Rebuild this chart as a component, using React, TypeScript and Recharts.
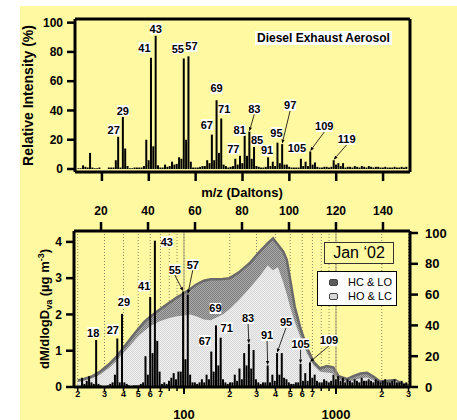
import React from 'react';
import {
  ComposedChart, BarChart, Bar, Area, XAxis, YAxis, CartesianGrid,
  ReferenceLine, LabelList, Legend, Label,
} from 'recharts';

const FONT = "'Liberation Sans', Arial, Helvetica, sans-serif";
const NARROW = "'Liberation Sans Narrow', 'Liberation Sans', Arial, sans-serif";
const BG = '#FFF9A1';

// m/z categories
const MZ = [
  10, 11, 12, 13, 14, 15, 16, 17, 18, 19,
  20, 21, 22, 23, 24, 25, 26, 27, 28, 29,
  30, 31, 32, 33, 34, 35, 36, 37, 38, 39,
  40, 41, 42, 43, 44, 45, 46, 47, 48, 49,
  50, 51, 52, 53, 54, 55, 56, 57, 58, 59,
  60, 61, 62, 63, 64, 65, 66, 67, 68, 69,
  70, 71, 72, 73, 74, 75, 76, 77, 78, 79,
  80, 81, 82, 83, 84, 85, 86, 87, 88, 89,
  90, 91, 92, 93, 94, 95, 96, 97, 98, 99,
  100, 101, 102, 103, 104, 105, 106, 107, 108, 109,
  110, 111, 112, 113, 114, 115, 116, 117, 118, 119,
  120, 121, 122, 123, 124, 125, 126, 127, 128, 129,
  130, 131, 132, 133, 134, 135, 136, 137, 138, 139,
  140, 141, 142, 143, 144, 145, 146, 147, 148, 149,
  150,
];

// Diesel exhaust aerosol mass spectrum (relative intensity, %)
const DIESEL_REL_INTENSITY = [
  0.5, 0.5, 2.5, 1.5, 1, 11, 1, 0.5, 0.5, 1,
  0, 0, 0, 1, 1, 1, 6, 22, 1, 35.5,
  14, 2, 0.5, 0.5, 1, 1, 1, 1, 2, 20,
  6, 76, 15.5, 91, 2.5, 1, 1, 3, 1.5, 2,
  5, 3, 3.5, 8, 7, 75.5, 20, 77, 5, 1,
  1, 1, 1.5, 2, 2, 6, 4, 23.5, 6, 47,
  11, 34.5, 3, 2, 1, 1.5, 2, 7, 3, 9,
  4, 23, 9, 25.5, 7, 15, 2, 1.5, 1, 1,
  1.5, 8, 2, 5, 2, 18, 4, 17, 3, 3,
  1.5, 1, 1, 1, 1, 7, 2, 5, 2, 12,
  3, 4.5, 1.5, 1, 1, 1.5, 1.5, 1, 1.5, 6,
  3, 4, 2, 4, 1, 1.5, 1.5, 1, 2, 1.5,
  1, 2, 1.5, 1, 2, 1.5, 1, 1.5, 1.5, 1,
  1, 1.5, 1, 1, 1, 1.5, 1, 1, 1.5, 1,
  1.5,
];

// Jan '02 ambient mass spectrum (right axis, 0-100)
const JAN02_INTENSITY = [
  0, 0, 6, 2, 4, 7, 3, 2, 30.5, 2,
  1, 0.5, 0.5, 1, 2, 3, 8, 31.5, 3, 47.5,
  3, 2, 1, 0.5, 1, 1, 1, 2, 3, 20,
  8, 58.5, 22, 95, 30, 10, 2, 3, 2, 4,
  6, 9, 5, 10, 10, 62, 18, 60, 8, 3,
  3, 2, 3, 5, 3, 8, 5, 23, 10, 40,
  14, 32, 5, 3, 2, 3, 3, 8, 4, 12,
  5, 22, 14, 28, 12, 24, 5, 3, 2, 3,
  3, 14, 3, 8, 4, 22, 8, 22, 6, 5,
  3, 2, 2, 3, 3, 15, 4, 9, 4, 16,
  6, 8, 4, 3, 3, 5, 4, 3, 4, 8,
  5, 7, 4, 6, 3, 5, 4, 3, 5, 4,
  3, 6, 4, 4, 5, 4, 3, 5, 4, 3,
  4, 5, 3, 3, 4, 5, 3, 3, 4, 2,
  3,
];

const DIESEL_LABELLED_MZ = [27, 29, 41, 43, 55, 57, 67, 69, 71, 77, 81, 83, 85, 91, 95, 97, 105, 109, 119];
const JAN02_LABELLED_MZ = [18, 27, 29, 41, 43, 55, 57, 67, 69, 71, 83, 91, 95, 105, 109];

const MZ_TICKS = [20, 40, 60, 80, 100, 120, 140];
const REL_TICKS = [0, 20, 40, 60, 80, 100];
const DM_TICKS = [0, 1, 2, 3, 4];
const SIZE_TICKS = [20, 30, 40, 50, 60, 70, 80, 90, 100, 200, 300, 400, 500, 600, 700, 800, 900, 1000, 2000, 3000];
const SIZE_TICK_LABELS = ['2', '3', '4', '5', '6', '7', '', '', '100', '2', '3', '4', '5', '6', '7', '', '', '1000', '2', '3'];

// size distribution (vacuum aerodynamic diameter, nm)
const DVA_NM = [
  20, 22, 25, 28, 32, 36, 40, 45, 50, 55, 60, 70, 80, 90, 100, 110, 120, 135, 150, 165,
  180, 200, 230, 270, 315, 355, 385, 415, 450, 475, 500, 535, 580, 640, 710, 785, 870, 960,
  1040, 1180, 1300, 1450, 1600, 1770, 1950, 2200, 2450, 2700, 3000,
];
const HC_LO_TOTAL = [
  0.18, 0.22, 0.3, 0.42, 0.62, 0.84, 1.08, 1.36, 1.6, 1.8, 1.94, 2.15, 2.32, 2.47, 2.58, 2.7, 2.82, 2.93, 2.97, 2.97,
  2.98, 3.0, 3.16, 3.41, 3.73, 3.96, 4.1, 3.92, 3.73, 3.5, 2.95, 2.22, 1.66, 1.11, 0.7, 0.51, 0.58, 0.54,
  0.3, 0.22, 0.3, 0.37, 0.39, 0.28, 0.15, 0.17, 0.19, 0.1, 0.05,
];
const HO_LC = [
  0.14, 0.17, 0.24, 0.34, 0.52, 0.72, 0.94, 1.18, 1.4, 1.55, 1.68, 1.82, 1.9, 1.95, 1.97, 2.0, 1.95, 1.86, 1.84, 1.92,
  2.0, 2.15, 2.4, 2.72, 3.05, 3.35, 3.22, 3.3, 2.88, 2.55, 2.2, 1.8, 1.4, 0.95, 0.6, 0.42, 0.4, 0.37,
  0.2, 0.13, 0.18, 0.24, 0.26, 0.18, 0.08, 0.1, 0.18, 0.06, 0.03,
];
const SERIES_NAMES = ['HC & LO', 'HO & LC'];

// label placement (offset of label centre from bar top, leader flag)
const TOP_LABEL_OFFSET: Record<number, number[]> = {
  27: [-4.5, -7, 0], 29: [0, -6.5, 0], 41: [-6.5, -10, 0], 43: [0, -7, 0], 55: [-6, -10, 0],
  57: [3, -10, 0], 67: [-5, -10, 0], 69: [0, -12, 0], 71: [3, -9.5, 0], 77: [-2, -10, 0],
  81: [-5, -5, 0], 83: [5, -23, 1], 85: [3, -7, 0], 91: [-1, -7, 0], 95: [-1, -10, 0],
  97: [8, -39, 1], 105: [-4, -11, 0], 109: [14, -25, 1], 119: [13, -21, 1],
};
const BOTTOM_LABEL_OFFSET: Record<number, number[]> = {
  18: [-3, -7.5, 0], 27: [-4.5, -8.5, 0], 29: [2, -12, 0], 41: [-6, -11, 0], 43: [12, 1, 0],
  55: [-8.3, -22, 1], 57: [5, -30, 1], 67: [-6.5, -11, 0], 69: [-0.5, -17, 0], 71: [6, -10, 0],
  83: [-0.8, -25.6, 1], 91: [-0.6, -30, 1], 95: [9, -31, 1], 105: [0, -20, 1], 109: [19, -22, 1],
};

const topData = MZ.map((mz, i) => ({ mz, v: DIESEL_REL_INTENSITY[i], lab: DIESEL_LABELLED_MZ.includes(mz) ? mz : null }));
const janData = MZ.map((mz, i) => ({ mz, v: JAN02_INTENSITY[i], lab: JAN02_LABELLED_MZ.includes(mz) ? mz : null }));
const sizeData = DVA_NM.map((d, i) => ({ d, total: HC_LO_TOTAL[i], light: HO_LC[i] }));

const AXIS_LINE = { stroke: '#000', strokeWidth: 3 };
const TICK_LINE = { stroke: '#000', strokeWidth: 2.5 };

function makePeakLabel(offsets: Record<number, number[]>) {
  return (props: any) => {
    const value = props.value;
    if (value === null || value === undefined || value === '') return null;
    const off = offsets[Number(value)];
    if (!off) return null;
    const vb = props.viewBox || {};
    const x = Number(vb.x ?? props.x);
    const y = Number(vb.y ?? props.y);
    const w = Number(vb.width ?? props.width ?? 0);
    const h = Number(vb.height ?? props.height ?? 0);
    const cx = x + w / 2;
    const top = Math.min(y, y + h);
    const lx = cx + off[0];
    const ly = top + off[1];
    const text = String(value);
    const bw = text.length * 5.1 + 1.5;
    const bh = 11;
    let leader = null;
    if (off[2]) {
      const sx = lx;
      const sy = ly + bh / 2;
      const tx = cx;
      const ty = top - 0.5;
      const dx = tx - sx;
      const dy = ty - sy;
      const len = Math.sqrt(dx * dx + dy * dy) || 1;
      const ux = dx / len;
      const uy = dy / len;
      const bx = tx - ux * 4;
      const by = ty - uy * 4;
      const px = -uy * 1.6;
      const py = ux * 1.6;
      leader = (
        <g>
          <line x1={sx} y1={sy} x2={bx} y2={by} stroke="#000" strokeWidth={0.8} />
          <polygon points={`${tx},${ty} ${bx + px},${by + py} ${bx - px},${by - py}`} fill="#000" />
        </g>
      );
    }
    return (
      <g>
        {leader}
        <rect x={lx - bw / 2} y={ly - bh / 2} width={bw} height={bh} fill="#fff" />
        <text x={lx} y={ly + 4} textAnchor="middle" fontSize={11} fontWeight="bold" fontFamily={NARROW} fill="#000">
          {text}
        </text>
      </g>
    );
  };
}

const HiddenTick = () => <g />;

const SizeTick = (props: any) => {
  const { x, y, payload } = props;
  const idx = SIZE_TICKS.indexOf(payload.value);
  const lab = idx >= 0 ? SIZE_TICK_LABELS[idx] : '';
  const decade = lab.length > 1;
  return (
    <g>
      <line x1={x} x2={x} y1={y + 1} y2={y + (decade ? 7 : 4)} stroke="#000" strokeWidth={decade ? 2 : 1.5} />
      {!decade && lab && (
        <text x={x} y={y + 10} textAnchor="middle" fontSize={9} fontWeight="bold" fill="#000">{lab}</text>
      )}
      {decade && (
        <text x={x} y={y + 31.5} textAnchor="middle" fontSize={13} fontWeight="bold" fill="#000">{lab}</text>
      )}
    </g>
  );
};

const TopYTitle = (p: any) => {
  const vb = p.viewBox || { y: 19, height: 153 };
  const cy = vb.y + vb.height / 2;
  return (
    <text transform={`translate(28,${cy}) rotate(-90)`} textAnchor="middle" dy="0.36em" fontSize={14} fontWeight="bold" fill="#000">
      Relative Intensity (%)
    </text>
  );
};

const BottomYTitle = (p: any) => {
  const vb = p.viewBox || { y: 51, height: 156 };
  const cy = vb.y + vb.height / 2;
  return (
    <text transform={`translate(44,${cy}) rotate(-90)`} textAnchor="middle" dy="0.36em" fontSize={13} fontWeight="bold" fill="#000">
      dM/dlogD
      <tspan fontSize={9} dy={3}>va</tspan>
      <tspan fontSize={13} dy={-3}> (µg m</tspan>
      <tspan fontSize={9} dy={-5}>-3</tspan>
      <tspan fontSize={13} dy={5}>)</tspan>
    </text>
  );
};

const LEGEND_SWATCH: Record<string, string> = { 'HC & LO': '#5c5c5c', 'HO & LC': '#d9d9d9' };

const renderLegend = (props: any) => {
  const items = props.payload || [];
  return (
    <div style={{
      width: 80, height: 35, background: '#fff', border: '1.5px solid #000', boxSizing: 'border-box',
      padding: '3px 0 0 11px', fontFamily: FONT,
    }}>
      {items.map((it: any, i: number) => (
        <div key={i} style={{ display: 'flex', alignItems: 'center', height: 14, fontSize: 11, color: '#000', whiteSpace: 'nowrap' }}>
          <span style={{ display: 'inline-block', width: 9, height: 7, background: LEGEND_SWATCH[it.value] || '#999', borderRadius: 2, marginRight: 10, border: '0.5px solid #444', boxSizing: 'border-box' }} />
          <span>{it.value}</span>
        </div>
      ))}
    </div>
  );
};

export default function App() {
  return (
    <div style={{ position: 'absolute', left: 0, top: 0, width: 457, height: 420, background: '#fff', overflow: 'hidden', fontFamily: FONT }}>
      <div style={{ position: 'absolute', left: 20, top: 6, right: 0, bottom: 0, background: BG }} />

      {/* Top panel: diesel exhaust mass spectrum */}
      <div style={{ position: 'absolute', left: 0, top: 0 }}>
        <BarChart width={457} height={200} data={topData} margin={{ top: 19, right: 47, bottom: 0, left: 0 }}>
          <XAxis
            dataKey="mz" type="number" domain={[8.5, 151.5]} allowDataOverflow ticks={MZ_TICKS} interval={0}
            height={28} tickSize={9} axisLine={AXIS_LINE} tickLine={TICK_LINE} tick={HiddenTick}
          />
          <YAxis
            type="number" domain={[-2.05, 102.5]} allowDataOverflow ticks={REL_TICKS} interval={0}
            width={75} tickSize={8} tickMargin={4} axisLine={AXIS_LINE} tickLine={TICK_LINE}
            tick={{ fontSize: 12, fontWeight: 'bold', fill: '#000' }}
            label={<Label content={TopYTitle} />}
          />
          <ReferenceLine y={102.5} stroke="#000" strokeWidth={3} ifOverflow="visible" />
          <ReferenceLine x={151.5} stroke="#000" strokeWidth={3} ifOverflow="visible" />
          <Bar dataKey="v" fill="#000" barSize={2} isAnimationActive={false}>
            <LabelList dataKey="lab" content={makePeakLabel(TOP_LABEL_OFFSET)} />
          </Bar>
        </BarChart>
      </div>

      <div style={{
        position: 'absolute', left: 255, top: 31, height: 14, lineHeight: '14px', padding: '0 2px',
        background: '#fff', fontSize: 12, fontWeight: 'bold', color: '#000', whiteSpace: 'nowrap',
      }}>
        Diesel Exhaust Aerosol
      </div>

      {/* Bottom panel: size distribution */}
      <div style={{ position: 'absolute', left: 0, top: 180 }}>
        <ComposedChart width={457} height={240} data={sizeData} margin={{ top: 51, right: 47, bottom: 0, left: 0 }}>
          <defs>
            <pattern id="chkDark" width="2" height="2" patternUnits="userSpaceOnUse">
              <rect width="2" height="2" fill="#ababab" />
              <rect width="1" height="1" fill="#7c7c7c" />
              <rect x="1" y="1" width="1" height="1" fill="#7c7c7c" />
            </pattern>
            <pattern id="chkLight" width="2" height="2" patternUnits="userSpaceOnUse">
              <rect width="2" height="2" fill="#efefef" />
              <rect width="1" height="1" fill="#d8d8d8" />
              <rect x="1" y="1" width="1" height="1" fill="#d8d8d8" />
            </pattern>
          </defs>
          <CartesianGrid horizontal={false} stroke="#8a8766" strokeDasharray="1 2" />
          <XAxis
            dataKey="d" type="number" scale="log" domain={[18.9, 3068]} allowDataOverflow ticks={SIZE_TICKS}
            interval={0} height={33} tickSize={0} tickMargin={0} tickLine={false} axisLine={AXIS_LINE} tick={SizeTick}
          />
          <YAxis
            type="number" domain={[0, 4.3]} allowDataOverflow ticks={DM_TICKS} interval={0}
            width={74} tickSize={8} tickMargin={4} axisLine={AXIS_LINE} tickLine={TICK_LINE}
            tick={{ fontSize: 12, fontWeight: 'bold', fill: '#000' }}
            label={<Label content={BottomYTitle} />}
          />
          <ReferenceLine x={100} stroke="#a39d7c" strokeWidth={1} />
          <ReferenceLine x={1000} stroke="#a39d7c" strokeWidth={1} />
          <Area type="linear" dataKey="total" name={SERIES_NAMES[0]} stroke="#6a6a6a" strokeWidth={2.5}
            fill="url(#chkDark)" fillOpacity={1} isAnimationActive={false} />
          <Area type="linear" dataKey="light" name={SERIES_NAMES[1]} stroke="none"
            fill="url(#chkLight)" fillOpacity={1} isAnimationActive={false} />
          <Legend layout="horizontal" verticalAlign="middle" align="center"
            wrapperStyle={{ left: 317, top: 91, width: 80, height: 35 }} content={renderLegend} />
        </ComposedChart>
      </div>

      {/* Bottom panel: Jan '02 mass spectrum overlay */}
      <div style={{ position: 'absolute', left: 0, top: 180 }}>
        <BarChart width={457} height={240} data={janData} margin={{ top: 0, right: 0, bottom: 33, left: 74 }}>
          <XAxis
            dataKey="mz" type="number" orientation="top" domain={[8.5, 151.5]} allowDataOverflow ticks={MZ_TICKS}
            interval={0} height={51} tickSize={9} tickMargin={7} axisLine={AXIS_LINE} tickLine={TICK_LINE}
            tick={{ fontSize: 12, fontWeight: 'bold', fill: '#000' }}
            label={{ value: 'm/z (Daltons)', position: 'insideTop', offset: 8, fontSize: 13, fontWeight: 'bold', fill: '#000' }}
          />
          <YAxis
            type="number" orientation="right" domain={[0, 101.3]} allowDataOverflow ticks={REL_TICKS} interval={0}
            width={47} tickSize={8} tickMargin={7} axisLine={AXIS_LINE} tickLine={TICK_LINE}
            tick={{ fontSize: 13, fontWeight: 'bold', fill: '#000' }}
          />
          <Bar dataKey="v" fill="#000" barSize={2} isAnimationActive={false}>
            <LabelList dataKey="lab" content={makePeakLabel(BOTTOM_LABEL_OFFSET)} />
          </Bar>
        </BarChart>
      </div>

      <div style={{
        position: 'absolute', left: 324, top: 242, width: 70, height: 22, boxSizing: 'border-box',
        border: '1.5px solid #333', background: BG, fontSize: 16, lineHeight: '19px', textAlign: 'center', color: '#000',
      }}>
        Jan ‘02
      </div>
    </div>
  );
}
